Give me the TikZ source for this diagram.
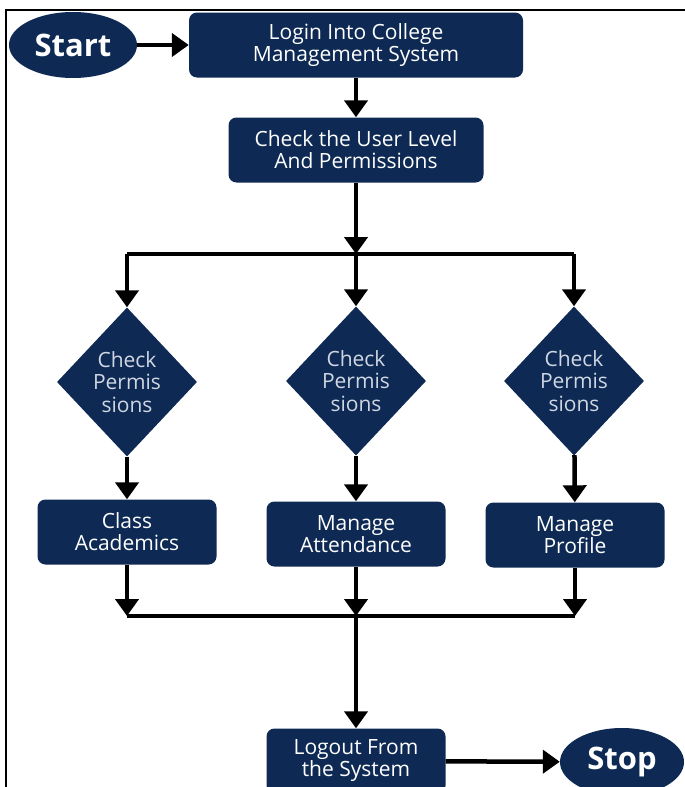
\documentclass[tikz,border=0pt]{standalone}
\usepackage{fontspec}
\setmainfont{Open Sans}
\usetikzlibrary{shapes.geometric,arrows.meta}

\definecolor{navy}{RGB}{14,42,84}
\definecolor{paletext}{RGB}{208,214,226}

\tikzstyle{process}=[rectangle, rounded corners=8pt, minimum width=179pt, minimum height=65pt, inner sep=2pt, text centered, align=center, fill=navy, text=white, font=\fontsize{21pt}{22pt}\selectfont]
\tikzstyle{decision}=[diamond, minimum width=140pt, minimum height=149pt, inner sep=0pt, align=center, fill=navy, text=paletext, font=\fontsize{21pt}{22.5pt}\selectfont]
\tikzstyle{startstop}=[ellipse, minimum width=128pt, minimum height=66pt, inner sep=0pt, fill=navy, text=white, font=\bfseries\fontsize{31pt}{33pt}\selectfont]
\tikzstyle{arrow}=[line width=4.5pt, ->, >={Triangle[length=17pt,width=23pt]}]
\tikzstyle{line}=[line width=4.5pt]

\begin{document}
\begin{tikzpicture}[x=1pt, y=-1pt]
\useasboundingbox (0,0) rectangle (685,787);

% frame
\draw[line width=2.5pt] (685,10) -- (6,10) -- (6,787);

\node(start)[startstop] at (73,45) {Start};
\node(p0)[process, minimum width=334pt] at (356,45) {Login Into College\\Management System};
\node(p1)[process, minimum width=255pt] at (356,150) {Check the User Level\\And Permissions};

\coordinate(s0) at (356,254);
\coordinate(s1) at (127,254);
\coordinate(s2) at (574,254);

\node(d1)[decision] at (127,382) {Check\\Permis\\sions};
\node(d2)[decision] at (356,381) {Check\\Permis\\sions};
\node(d3)[decision] at (574,381) {Check\\Permis\\sions};

\node(p2)[process] at (127,532) {Class\\Academics};
\node(p3)[process] at (356,534) {Manage\\Attendance};
\node(p4)[process] at (575,535) {Manage\\Profile};

\coordinate(j0) at (356,616);
\coordinate(j1) at (127,616);
\coordinate(j2) at (575,616);

\node(p5)[process] at (356,761) {Logout From\\the System};
\node(stop)[startstop, minimum width=124pt, minimum height=68pt] at (622,762) {Stop};

\draw[arrow](start)--(p0);
\draw[arrow](p0)--(p1);
\draw[arrow](p1)--(s0);
\draw[line](s1)--(s2);
\draw[arrow](s1)--(d1);
\draw[arrow](s0)--(d2);
\draw[arrow](s2)--(d3);
\draw[arrow](d1)--(p2);
\draw[arrow](d2)--(p3);
\draw[arrow](d3)--(p4);
\draw[arrow](p2)--(j1);
\draw[arrow](p3)--(j0);
\draw[arrow](p4)--(j2);
\draw[line](j1)--(j2);
\draw[arrow](j0)--(p5);
\draw[arrow](p5)--(stop);

\end{tikzpicture}
\end{document}
